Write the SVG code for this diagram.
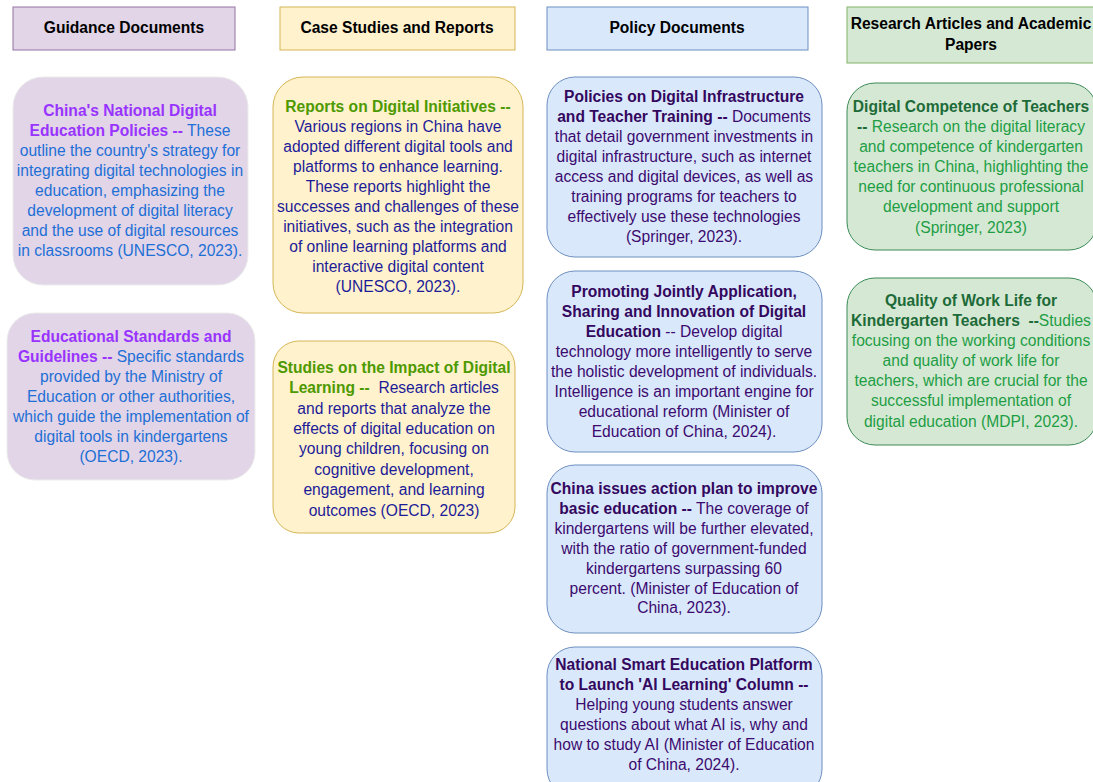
<svg xmlns="http://www.w3.org/2000/svg" width="1093" height="782" viewBox="0 0 1093 782">
<style>
text{font-family:"Liberation Sans",Arial,Helvetica,sans-serif;font-size:15.6px;text-anchor:middle}
.hd{font-weight:bold;fill:#000}
.b{font-weight:bold}
.g rect{fill:#e1d5e7}
.c rect{fill:#fff2cc}
.p rect{fill:#dae8fc}
.r rect{fill:#d5e8d4}
.g text{fill:#1e6fd6}.g .t{fill:#9933ff}
.c text{fill:#1c1c99}.c .t{fill:#4d9900}
.p text{fill:#3b0b6e}.p .t{fill:#33085e}
.r text{fill:#1e9e44}.r .t{fill:#1d6b38}
</style>
<rect width="1093" height="782" fill="#fff"/>
<g id="connectors"/>
<g id="h-guidance"><rect x="13" y="7" width="222" height="43" fill="#e1d5e7" stroke="#9673a6"/><text class="hd" x="124" y="33">Guidance Documents</text></g>
<g id="h-case"><rect x="280" y="7" width="235" height="43" fill="#fff2cc" stroke="#d6b656"/><text class="hd" x="397" y="33">Case Studies and Reports</text></g>
<g id="h-policy"><rect x="547" y="7" width="261" height="43" fill="#dae8fc" stroke="#6c8ebf"/><text class="hd" x="677" y="33">Policy Documents</text></g>
<g id="h-research"><rect x="847" y="7" width="250" height="56" fill="#d5e8d4" stroke="#82b366"/><text class="hd" x="971" y="29">Research Articles and Academic</text><text class="hd" x="971" y="50">Papers</text></g>

<g id="n-china-policies" class="g"><rect x="13" y="77" width="235" height="208" rx="30" stroke="#ececec"/>
<text x="130" y="116"><tspan class="t b">China's National Digital</tspan></text>
<text x="130" y="136"><tspan class="t b">Education Policies --</tspan> These</text>
<text x="130" y="156">outline the country's strategy for</text>
<text x="130" y="176">integrating digital technologies in</text>
<text x="130" y="196">education, emphasizing the</text>
<text x="130" y="216">development of digital literacy</text>
<text x="130" y="236">and the use of digital resources</text>
<text x="130" y="256">in classrooms (UNESCO, 2023).</text></g>

<g id="n-standards" class="g"><rect x="7" y="313" width="248" height="167" rx="28" stroke="#ececec"/>
<text x="131" y="342"><tspan class="t b">Educational Standards and</tspan></text>
<text x="131" y="362"><tspan class="t b">Guidelines --</tspan> Specific standards</text>
<text x="131" y="382">provided by the Ministry of</text>
<text x="131" y="402">Education or other authorities,</text>
<text x="131" y="422">which guide the implementation of</text>
<text x="131" y="442">digital tools in kindergartens</text>
<text x="131" y="462">(OECD, 2023).</text></g>

<g id="n-reports" class="c"><rect x="273" y="77" width="250" height="236" rx="30" stroke="#d6b656"/>
<text x="398" y="112"><tspan class="t b">Reports on Digital Initiatives --</tspan></text>
<text x="398" y="132">Various regions in China have</text>
<text x="398" y="152">adopted different digital tools and</text>
<text x="398" y="172">platforms to enhance learning.</text>
<text x="398" y="192">These reports highlight the</text>
<text x="398" y="212">successes and challenges of these</text>
<text x="398" y="232">initiatives, such as the integration</text>
<text x="398" y="252">of online learning platforms and</text>
<text x="398" y="272">interactive digital content</text>
<text x="398" y="292">(UNESCO, 2023).</text></g>

<g id="n-studies" class="c"><rect x="273" y="341" width="242" height="192" rx="26" stroke="#d6b656"/>
<text x="394" y="373"><tspan class="t b">Studies on the Impact of Digital</tspan></text>
<text x="394" y="393" xml:space="preserve"><tspan class="t b">Learning --</tspan>  Research articles</text>
<text x="394" y="414">and reports that analyze the</text>
<text x="394" y="434">effects of digital education on</text>
<text x="394" y="454">young children, focusing on</text>
<text x="394" y="475">cognitive development,</text>
<text x="394" y="495">engagement, and learning</text>
<text x="394" y="516">outcomes (OECD, 2023)</text></g>

<g id="n-infrastructure" class="p"><rect x="547" y="77" width="275" height="180" rx="28" stroke="#6c8ebf"/>
<text x="684" y="102"><tspan class="t b">Policies on Digital Infrastructure</tspan></text>
<text x="684" y="122"><tspan class="t b">and Teacher Training --</tspan> Documents</text>
<text x="684" y="142">that detail government investments in</text>
<text x="684" y="162">digital infrastructure, such as internet</text>
<text x="684" y="182">access and digital devices, as well as</text>
<text x="684" y="202">training programs for teachers to</text>
<text x="684" y="222">effectively use these technologies</text>
<text x="684" y="242">(Springer, 2023).</text></g>

<g id="n-promoting" class="p"><rect x="547" y="271" width="275" height="181" rx="28" stroke="#6c8ebf"/>
<text x="684" y="297"><tspan class="t b">Promoting Jointly Application,</tspan></text>
<text x="684" y="317"><tspan class="t b">Sharing and Innovation of Digital</tspan></text>
<text x="684" y="337"><tspan class="t b">Education</tspan> -- Develop digital</text>
<text x="684" y="357">technology more intelligently to serve</text>
<text x="684" y="377">the holistic development of individuals.</text>
<text x="684" y="397">Intelligence is an important engine for</text>
<text x="684" y="417">educational reform (Minister of</text>
<text x="684" y="437">Education of China, 2024).</text></g>

<g id="n-action-plan" class="p"><rect x="547" y="465" width="275" height="168" rx="28" stroke="#6c8ebf"/>
<text x="684" y="494"><tspan class="t b">China issues action plan to improve</tspan></text>
<text x="684" y="514"><tspan class="t b">basic education --</tspan> The coverage of</text>
<text x="684" y="534">kindergartens will be further elevated,</text>
<text x="684" y="554">with the ratio of government-funded</text>
<text x="684" y="574">kindergartens surpassing 60</text>
<text x="684" y="594">percent. (Minister of Education of</text>
<text x="684" y="613">China, 2023).</text></g>

<g id="n-smart-platform" class="p"><rect x="547" y="647" width="275" height="150" rx="28" stroke="#6c8ebf"/>
<text x="684" y="670"><tspan class="t b">National Smart Education Platform</tspan></text>
<text x="684" y="690"><tspan class="t b">to Launch 'AI Learning' Column --</tspan></text>
<text x="684" y="710">Helping young students answer</text>
<text x="684" y="730">questions about what AI is, why and</text>
<text x="684" y="750">how to study AI (Minister of Education</text>
<text x="684" y="770">of China, 2024).</text></g>

<g id="n-competence" class="r"><rect x="847" y="83" width="250" height="167" rx="28" stroke="#3a8a55"/>
<text x="971" y="112"><tspan class="t b">Digital Competence of Teachers</tspan></text>
<text x="971" y="132"><tspan class="t b">--</tspan> Research on the digital literacy</text>
<text x="971" y="152">and competence of kindergarten</text>
<text x="971" y="172">teachers in China, highlighting the</text>
<text x="971" y="192">need for continuous professional</text>
<text x="971" y="212">development and support</text>
<text x="971" y="233">(Springer, 2023)</text></g>

<g id="n-work-life" class="r"><rect x="847" y="278" width="250" height="167" rx="28" stroke="#3a8a55"/>
<text x="971" y="306"><tspan class="t b">Quality of Work Life for</tspan></text>
<text x="971" y="326" xml:space="preserve"><tspan class="t b">Kindergarten Teachers  --</tspan>Studies</text>
<text x="971" y="346">focusing on the working conditions</text>
<text x="971" y="366">and quality of work life for</text>
<text x="971" y="386">teachers, which are crucial for the</text>
<text x="971" y="406">successful implementation of</text>
<text x="971" y="427">digital education (MDPI, 2023).</text></g>
</svg>
